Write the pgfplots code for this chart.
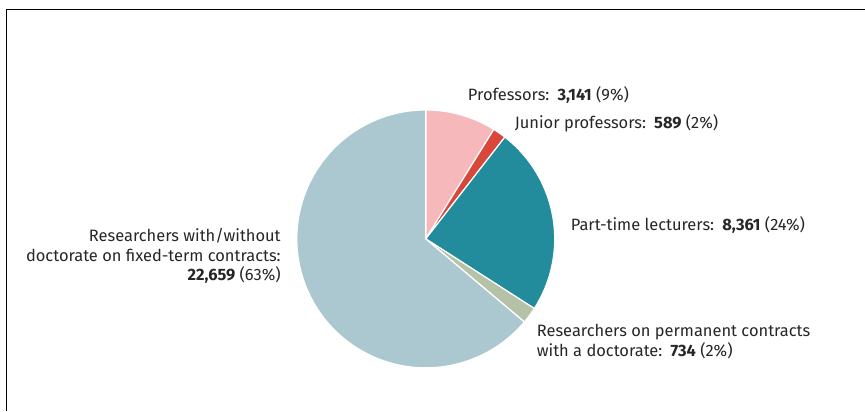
\documentclass[border=0pt]{standalone}
\usepackage{pgfplots}
\pgfplotsset{compat=1.18}
\usepackage{fontspec}
\setmainfont{Fira Sans}
\definecolor{cProf}{HTML}{F7B8BC}
\definecolor{cJun}{HTML}{D9473A}
\definecolor{cPart}{HTML}{228C9D}
\definecolor{cPerm}{HTML}{B6C2A8}
\definecolor{cFix}{HTML}{ABC8D0}
% values
\def\vA{3141}  % Professors
\def\vB{589}   % Junior professors
\def\vC{8361}  % Part-time lecturers
\def\vD{734}   % Researchers on permanent contracts with a doctorate
\def\vE{22659} % Researchers with/without doctorate on fixed-term contracts
\edef\tot{\fpeval{\vA+\vB+\vC+\vD+\vE}}
\edef\aO{90}
\edef\aA{\fpeval{round(\aO-360*\vA/\tot,4)}}
\edef\aB{\fpeval{round(\aA-360*\vB/\tot,4)}}
\edef\aC{\fpeval{round(\aB-360*\vC/\tot,4)}}
\edef\aD{\fpeval{round(\aC-360*\vD/\tot,4)}}
\edef\aE{\fpeval{round(\aD-360*\vE/\tot,4)}}
\begin{document}
\begin{tikzpicture}[x=1bp,y=1bp]
\path (0,0) rectangle (865,411);
\draw[black, line width=1bp] (7,0) -- (7,401) -- (865,401);
\begin{axis}[at={(0,0)}, anchor=south west, scale only axis,
  width=865bp, height=411bp, hide axis,
  xmin=-3.302, xmax=3.403, ymin=-1.333, ymax=1.853, clip=false]
\addplot[fill=cProf, draw=white, line width=1.2bp, domain=\aA:\aO, samples=40, variable=\t] ({cos(\t)},{sin(\t)}) -- (axis cs:0,0) -- cycle;
\addplot[fill=cJun, draw=white, line width=1.2bp, domain=\aB:\aA, samples=10, variable=\t] ({cos(\t)},{sin(\t)}) -- (axis cs:0,0) -- cycle;
\addplot[fill=cPart, draw=white, line width=1.2bp, domain=\aC:\aB, samples=60, variable=\t] ({cos(\t)},{sin(\t)}) -- (axis cs:0,0) -- cycle;
\addplot[fill=cPerm, draw=white, line width=1.2bp, domain=\aD:\aC, samples=10, variable=\t] ({cos(\t)},{sin(\t)}) -- (axis cs:0,0) -- cycle;
\addplot[fill=cFix, draw=white, line width=1.2bp, domain=\aE:\aD, samples=120, variable=\t] ({cos(\t)},{sin(\t)}) -- (axis cs:0,0) -- cycle;
\end{axis}
\begin{scope}[every node/.style={inner sep=0pt, font=\fontsize{16.5}{20}\selectfont, text=black!85}]
\node[anchor=west] at (468,316) {Professors:\enspace\textbf{3,141} (9\%)};
\node[anchor=west] at (515,288) {Junior professors:\enspace\textbf{589} (2\%)};
\node[anchor=west] at (571,186) {Part-time lecturers:\enspace\textbf{8,361} (24\%)};
\node[anchor=west, align=left] at (537,69) {Researchers on permanent contracts\\with a doctorate:\enspace\textbf{734} (2\%)};
\node[anchor=east, align=right] at (281,155) {Researchers with/without\\doctorate on fixed-term contracts:\\\textbf{22,659} (63\%)};
\end{scope}
\end{tikzpicture}
\end{document}
